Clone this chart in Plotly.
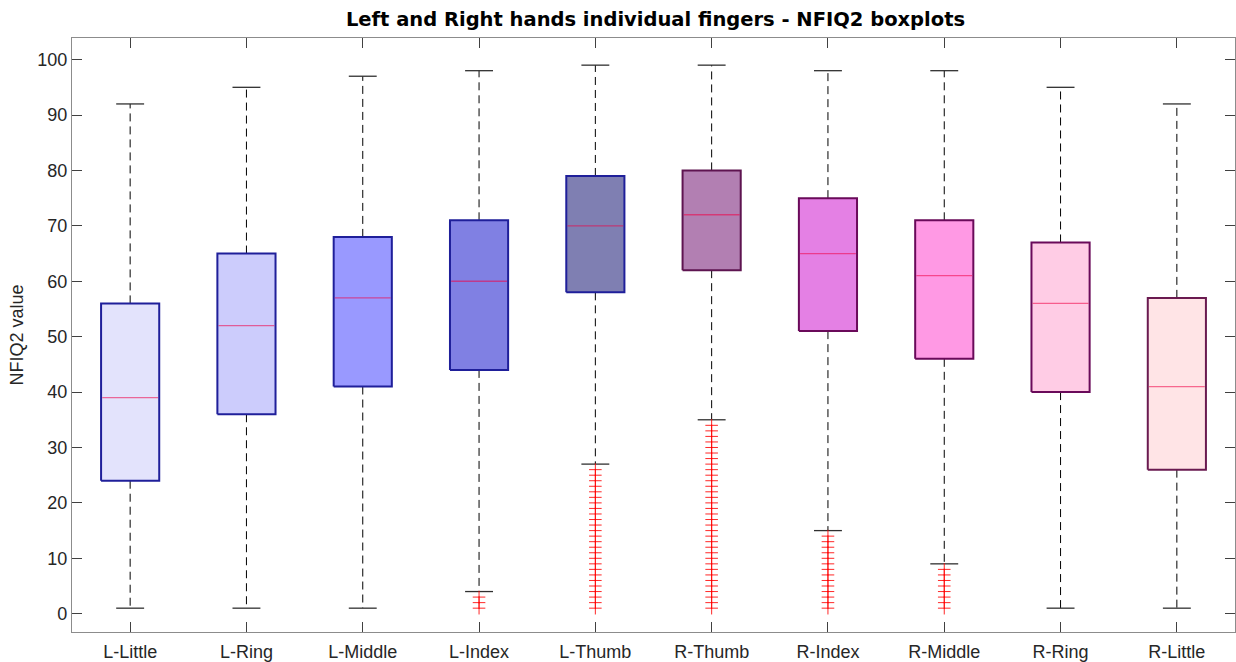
import plotly.graph_objects as go

# ---------------- data ----------------
categories = ["L-Little", "L-Ring", "L-Middle", "L-Index", "L-Thumb",
              "R-Thumb", "R-Index", "R-Middle", "R-Ring", "R-Little"]
q1 = [24, 36, 41, 44, 58, 62, 51, 46, 40, 26]
medians = [39, 52, 57, 60, 70, 72, 65, 61, 56, 41]
q3 = [56, 65, 68, 71, 79, 80, 75, 71, 67, 57]
lower_whisker = [1, 1, 1, 4, 27, 35, 15, 9, 1, 1]
upper_whisker = [92, 95, 97, 98, 99, 99, 98, 98, 95, 92]

outliers_l_index = [3, 2, 1]
outliers_l_thumb = [26, 25, 24, 23, 22, 21, 20, 19, 18, 17, 16, 15, 14, 13,
                    12, 11, 10, 9, 8, 7, 6, 5, 4, 3, 2, 1]
outliers_r_thumb = [34, 33, 32, 31, 30, 29, 28, 27, 26, 25, 24, 23, 22, 21,
                    20, 19, 18, 17, 16, 15, 14, 13, 12, 11, 10, 9, 8, 7, 6,
                    5, 4, 3, 2, 1]
outliers_r_index = [14, 13, 12, 11, 10, 9, 8, 7, 6, 5, 4, 3, 2, 1]
outliers_r_middle = [8, 7, 6, 5, 4, 3, 2, 1]
outlier_groups = {
    "L-Index": outliers_l_index,
    "L-Thumb": outliers_l_thumb,
    "R-Thumb": outliers_r_thumb,
    "R-Index": outliers_r_index,
    "R-Middle": outliers_r_middle,
}

y_ticks = [0, 10, 20, 30, 40, 50, 60, 70, 80, 90, 100]

# ---------------- styles ----------------
fill_colors = ["#E3E3FC", "#CCCCFC", "#9999FF", "#8080E3", "#7F7FB2",
               "#B27FB2", "#E480E4", "#FF99E4", "#FFCCE5", "#FFE4E6"]
edge_colors = ["#1f1f9a", "#1f1f9a", "#1f1f9a", "#1f1f9a", "#1f1f9a",
               "#5e1450", "#6a0a5a", "#6a0a5a", "#6a0a5a", "#6a1a50"]
box_half = 0.25
cap_half = 0.12

fig = go.Figure()

xpos = list(range(len(categories)))

# whiskers (dashed)
wx, wy = [], []
for i in xpos:
    wx += [i, i, None, i, i, None]
    wy += [q3[i], upper_whisker[i], None, q1[i], lower_whisker[i], None]
fig.add_trace(go.Scatter(x=wx, y=wy, mode="lines",
                         line=dict(color="#000000", width=1, dash="8px,5px"),
                         hoverinfo="skip", showlegend=False))

# whisker caps
cx, cy = [], []
for i in xpos:
    cx += [i - cap_half, i + cap_half, None, i - cap_half, i + cap_half, None]
    cy += [upper_whisker[i], upper_whisker[i], None,
           lower_whisker[i], lower_whisker[i], None]
fig.add_trace(go.Scatter(x=cx, y=cy, mode="lines",
                         line=dict(color="#303030", width=1.3),
                         hoverinfo="skip", showlegend=False))

# boxes
for i in xpos:
    fig.add_trace(go.Scatter(
        x=[i - box_half, i + box_half, i + box_half, i - box_half, i - box_half],
        y=[q1[i], q1[i], q3[i], q3[i], q1[i]],
        mode="lines", fill="toself", fillcolor=fill_colors[i],
        line=dict(color=edge_colors[i], width=2),
        name=categories[i], hoverinfo="skip", showlegend=False))

# medians
for i in xpos:
    fig.add_trace(go.Scatter(
        x=[i - box_half + 0.01, i + box_half - 0.01],
        y=[medians[i], medians[i]],
        mode="lines", line=dict(color="rgba(240,0,70,0.55)", width=1.3),
        hoverinfo="skip", showlegend=False))

# outliers
ox, oy = [], []
for name, vals in outlier_groups.items():
    idx = categories.index(name)
    ox += [idx] * len(vals)
    oy += vals
fig.add_trace(go.Scatter(
    x=ox, y=oy, mode="markers",
    marker=dict(symbol="cross-thin", size=9,
                line=dict(color="rgba(255,0,0,0.85)", width=1)),
    hoverinfo="skip", showlegend=False))

fig.update_layout(
    width=1236, height=662,
    margin=dict(l=72, r=1, t=38, b=30),
    paper_bgcolor="white", plot_bgcolor="white",
    font=dict(family="Liberation Sans, Arial, sans-serif", size=18, color="#262626"),
    title=dict(text="Left and Right hands individual fingers - NFIQ2 boxplots",
               x=655.5 / 1236, xanchor="center", y=1 - 19 / 662, yanchor="middle",
               yref="container",
               font=dict(family="DejaVu Sans, sans-serif", size=19.5,
                         color="#000000", weight="bold")),
    showlegend=False,
)
fig.update_xaxes(
    range=[-0.5, 9.5], tickvals=xpos, ticktext=categories,
    showgrid=False, zeroline=False,
    showline=True, linecolor="#8c8c8c", linewidth=1.3, mirror="allticks",
    ticks="inside", ticklen=10, tickcolor="#404040", tickwidth=1,
    tickfont=dict(size=18, color="#262626"), ticklabelstandoff=3,
)
fig.update_yaxes(
    range=[-3.3, 103.9], tickvals=y_ticks,
    showgrid=False, zeroline=False,
    showline=True, linecolor="#8c8c8c", linewidth=1.3, mirror="allticks",
    ticks="inside", ticklen=10, tickcolor="#404040", tickwidth=1,
    tickfont=dict(size=18, color="#262626"),
    title=dict(text="NFIQ2 value", font=dict(size=18, color="#262626"), standoff=8),
)

fig.write_html(
    "out.html",
    config={"displayModeBar": False},
    post_script="document.body.style.margin='0';document.body.style.overflow='hidden';",
)
